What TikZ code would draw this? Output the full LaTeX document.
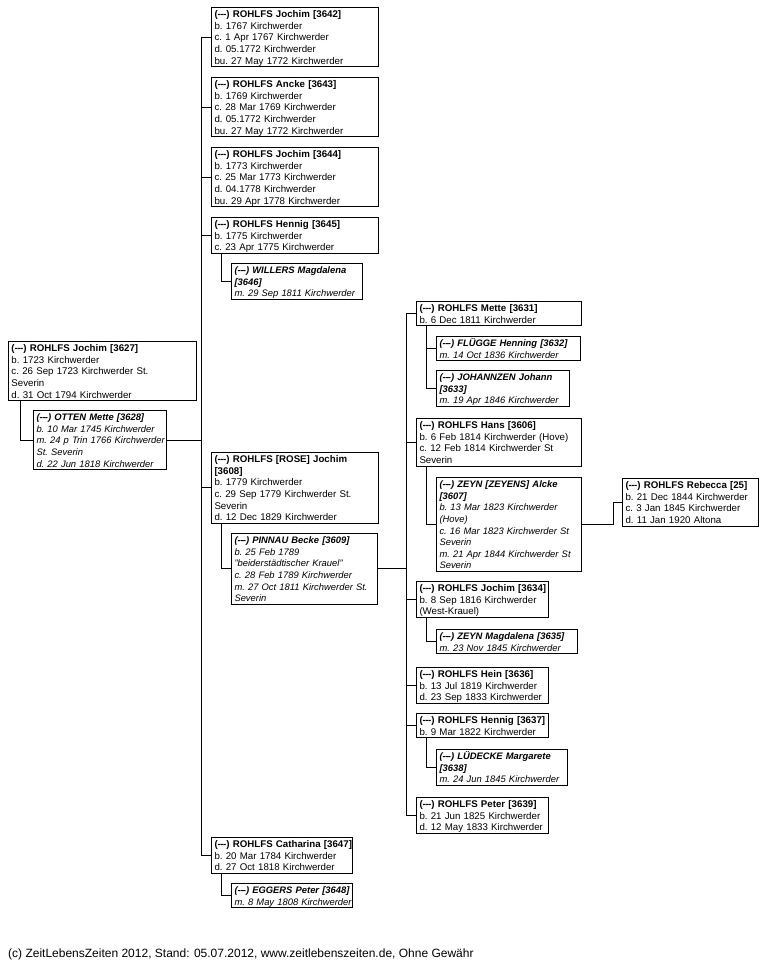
\documentclass[tikz,border=0pt]{standalone}
\usepackage{fontspec}
\setmainfont{Liberation Sans}
\newcommand\fs{\fontsize{9.7}{11.6}\selectfont\frenchspacing}
\newcommand\fsi{\fontsize{9.4}{11.6}\selectfont\frenchspacing\itshape}
\newcommand\dsh{(-\kern-0.5pt-\kern-0.5pt-)}
\newcommand\tb[1]{\raisebox{-1.4pt}[\height][\depth]{\begin{tabular}{@{}l@{}}#1\end{tabular}}}
\begin{document}
\begin{tikzpicture}[x=1pt,y=-1pt,
  pbox/.style={draw, line width=1pt, anchor=north west, inner xsep=3pt, inner ysep=0.6pt, align=left, font=\fs, rectangle},
  sbox/.style={pbox, font=\fsi},
  conn/.style={line width=0.9pt}]
\useasboundingbox (0,0) rectangle (767,963);
% left column
\node[pbox, text width=182pt] (p3627) at (8,341) {\tb{\textbf{\dsh{} ROHLFS Jochim [3627]}\\b. 1723 Kirchwerder\\c. 26 Sep 1723 Kirchwerder St.\\Severin\\d. 31 Oct 1794 Kirchwerder}};
\node[sbox, text width=127pt] (p3628) at (33,410) {\tb{\textbf{\dsh{} OTTEN Mette [3628]}\\b. 10 Mar 1745 Kirchwerder\\m. 24 p Trin 1766 Kirchwerder\\St. Severin\\d. 22 Jun 1818 Kirchwerder}};
% middle column
\node[pbox, text width=161pt] (p3642) at (211,7) {\tb{\textbf{\dsh{} ROHLFS Jochim [3642]}\\b. 1767 Kirchwerder\\c. 1 Apr 1767 Kirchwerder\\d. 05.1772 Kirchwerder\\bu. 27 May 1772 Kirchwerder}};
\node[pbox, text width=161pt] (p3643) at (211,77) {\tb{\textbf{\dsh{} ROHLFS Ancke [3643]}\\b. 1769 Kirchwerder\\c. 28 Mar 1769 Kirchwerder\\d. 05.1772 Kirchwerder\\bu. 27 May 1772 Kirchwerder}};
\node[pbox, text width=161pt] (p3644) at (211,147) {\tb{\textbf{\dsh{} ROHLFS Jochim [3644]}\\b. 1773 Kirchwerder\\c. 25 Mar 1773 Kirchwerder\\d. 04.1778 Kirchwerder\\bu. 29 Apr 1778 Kirchwerder}};
\node[pbox, text width=161pt] (p3645) at (211,217) {\tb{\textbf{\dsh{} ROHLFS Hennig [3645]}\\b. 1775 Kirchwerder\\c. 23 Apr 1775 Kirchwerder}};
\node[sbox, text width=125pt] (p3646) at (231,263) {\tb{\textbf{\dsh{} WILLERS Magdalena}\\\textbf{[3646]}\\m. 29 Sep 1811 Kirchwerder}};
\node[pbox, text width=161pt] (p3608) at (211,452) {\tb{\textbf{\dsh{} ROHLFS [ROSE] Jochim}\\\textbf{[3608]}\\b. 1779 Kirchwerder\\c. 29 Sep 1779 Kirchwerder St.\\Severin\\d. 12 Dec 1829 Kirchwerder}};
\node[sbox, text width=140pt] (p3609) at (231,533) {\tb{\textbf{\dsh{} PINNAU Becke [3609]}\\b. 25 Feb 1789\\"beiderstädtischer Krauel"\\c. 28 Feb 1789 Kirchwerder\\m. 27 Oct 1811 Kirchwerder St.\\Severin}};
\node[pbox, text width=135pt] (p3647) at (211,837) {\tb{\textbf{\dsh{} ROHLFS Catharina [3647]}\\b. 20 Mar 1784 Kirchwerder\\d. 27 Oct 1818 Kirchwerder}};
\node[sbox, text width=115pt] (p3648) at (231,883) {\tb{\textbf{\dsh{} EGGERS Peter [3648]}\\m. 8 May 1808 Kirchwerder}};
% right column
\node[pbox, text width=159pt] (p3631) at (416,301) {\tb{\textbf{\dsh{} ROHLFS Mette [3631]}\\b. 6 Dec 1811 Kirchwerder}};
\node[sbox, text width=138pt] (p3632) at (436,336) {\tb{\textbf{\dsh{} FLÜGGE Henning [3632]}\\m. 14 Oct 1836 Kirchwerder}};
\node[sbox, text width=127pt] (p3633) at (436,370) {\tb{\textbf{\dsh{} JOHANNZEN Johann}\\\textbf{[3633]}\\m. 19 Apr 1846 Kirchwerder}};
\node[pbox, text width=159pt] (p3606) at (416,418) {\tb{\textbf{\dsh{} ROHLFS Hans [3606]}\\b. 6 Feb 1814 Kirchwerder (Hove)\\c. 12 Feb 1814 Kirchwerder St\\Severin}};
\node[sbox, text width=139pt] (p3607) at (436,477) {\tb{\textbf{\dsh{} ZEYN [ZEYENS] Alcke}\\\textbf{[3607]}\\b. 13 Mar 1823 Kirchwerder\\(Hove)\\c. 16 Mar 1823 Kirchwerder St\\Severin\\m. 21 Apr 1844 Kirchwerder St\\Severin}};
\node[pbox, text width=126pt] (p3634) at (416,581) {\tb{\textbf{\dsh{} ROHLFS Jochim [3634]}\\b. 8 Sep 1816 Kirchwerder\\(West-Krauel)}};
\node[sbox, text width=135pt] (p3635) at (436,629) {\tb{\textbf{\dsh{} ZEYN Magdalena [3635]}\\m. 23 Nov 1845 Kirchwerder}};
\node[pbox, text width=126pt] (p3636) at (416,667) {\tb{\textbf{\dsh{} ROHLFS Hein [3636]}\\b. 13 Jul 1819 Kirchwerder\\d. 23 Sep 1833 Kirchwerder}};
\node[pbox, text width=126pt] (p3637) at (416,713) {\tb{\textbf{\dsh{} ROHLFS Hennig [3637]}\\b. 9 Mar 1822 Kirchwerder}};
\node[sbox, text width=125pt] (p3638) at (436,749) {\tb{\textbf{\dsh{} LÜDECKE Margarete}\\\textbf{[3638]}\\m. 24 Jun 1845 Kirchwerder}};
\node[pbox, text width=126pt] (p3639) at (416,797) {\tb{\textbf{\dsh{} ROHLFS Peter [3639]}\\b. 21 Jun 1825 Kirchwerder\\d. 12 May 1833 Kirchwerder}};
% far right
\node[pbox, text width=130pt] (p25) at (622,478) {\tb{\textbf{\dsh{} ROHLFS Rebecca [25]}\\b. 21 Dec 1844 Kirchwerder\\c. 3 Jan 1845 Kirchwerder\\d. 11 Jan 1920 Altona}};
% footer
\node[anchor=base west, inner sep=0pt, font=\fontsize{12}{14}\selectfont] (foot) at (8,957) {(c) ZeitLebensZeiten 2012, Stand: 05.07.2012, www.zeitlebenszeiten.de, Ohne Gewähr};
% connectors
\coordinate (mv) at (201,0);
\coordinate (rv) at (406,0);
\draw[conn] ([xshift=12pt]p3627.south west) |- (p3628.west);
\draw[conn] (p3628.east) -- (p3628.east -| mv);
\draw[conn] (p3642.west -| mv) -- (p3647.west -| mv);
\foreach \c in {p3642,p3643,p3644,p3645,p3608,p3647}{\draw[conn] (\c.west) -- (\c.west -| mv);}
\draw[conn] ([xshift=10pt]p3645.south west) |- (p3646.west);
\draw[conn] ([xshift=10pt]p3608.south west) |- (p3609.west);
\draw[conn] ([xshift=10pt]p3647.south west) |- (p3648.west);
\draw[conn] (p3609.east) -- (p3609.east -| rv);
\draw[conn] (p3631.west -| rv) -- (p3639.west -| rv);
\foreach \c in {p3631,p3606,p3634,p3636,p3637,p3639}{\draw[conn] (\c.west) -- (\c.west -| rv);}
\draw[conn] ([xshift=10pt]p3631.south west) |- (p3633.west);
\draw[conn] ([xshift=10pt]p3631.south west |- p3632.west) -- (p3632.west);
\draw[conn] ([xshift=10pt]p3606.south west) |- (p3607.west);
\draw[conn] ([xshift=10pt]p3634.south west) |- (p3635.west);
\draw[conn] ([xshift=10pt]p3637.south west) |- (p3638.west);
\draw[conn] (p3607.east) -- ++(31,0) |- (p25.west);
\end{tikzpicture}
\end{document}
